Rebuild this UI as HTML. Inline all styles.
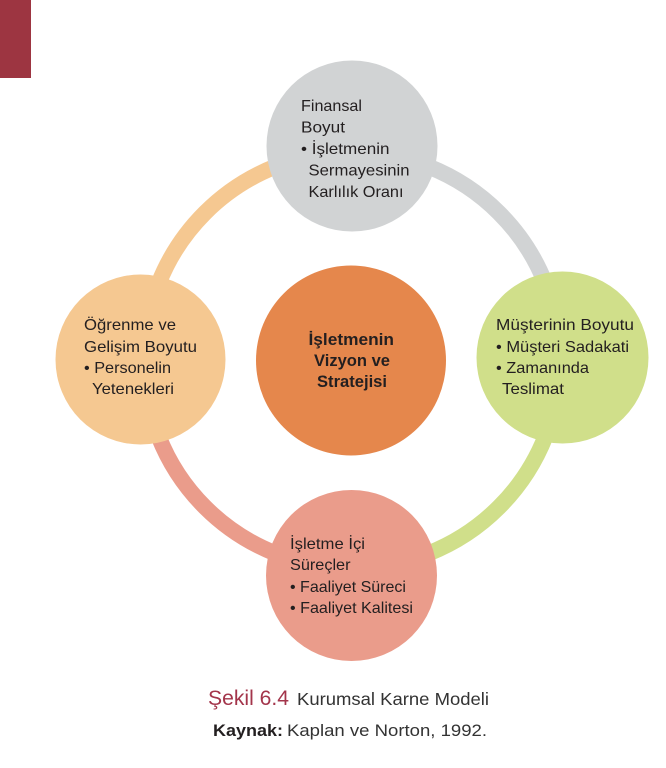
<!DOCTYPE html>
<html>
<head>
<meta charset="utf-8">
<style>
  html, body { margin: 0; padding: 0; background: #ffffff; }
  body { width: 666px; height: 768px; overflow: hidden; }
  svg { display: block; }
  text { font-family: "Liberation Sans", "DejaVu Sans", sans-serif; fill: #231f20; }
</style>
</head>
<body>
<svg width="666" height="768" viewBox="0 0 666 768" xmlns="http://www.w3.org/2000/svg">
  <rect x="0" y="0" width="31" height="78" fill="#9d3541"/>

  <!-- ring arcs -->
  <g fill="none" stroke-width="16">
    <path d="M144,360 A208,208 0 0 1 352,152" stroke="#f5c891"/>
    <path d="M352,152 A208,208 0 0 1 560,360" stroke="#d1d3d4"/>
    <path d="M560,360 A208,208 0 0 1 352,568" stroke="#d0df8a"/>
    <path d="M352,568 A208,208 0 0 1 144,360" stroke="#ea9c8b"/>
  </g>

  <!-- circles -->
  <circle cx="352" cy="146" r="85.5" fill="#d1d3d4"/>
  <circle cx="140.5" cy="359.5" r="85" fill="#f5c891"/>
  <circle cx="351" cy="360.5" r="95" fill="#e5874c"/>
  <circle cx="562.5" cy="357.5" r="86" fill="#d0df8a"/>
  <circle cx="351.5" cy="575.5" r="85.5" fill="#ea9c8b"/>

  <!-- top -->
  <g font-size="16">
    <text x="301" y="111" textLength="61" lengthAdjust="spacingAndGlyphs">Finansal</text>
    <text x="301" y="132.7" textLength="44" lengthAdjust="spacingAndGlyphs">Boyut</text>
    <text x="301" y="154" textLength="88.5" lengthAdjust="spacingAndGlyphs">• İşletmenin</text>
    <text x="308.5" y="175.7" textLength="101" lengthAdjust="spacingAndGlyphs">Sermayesinin</text>
    <text x="308.5" y="197" textLength="95" lengthAdjust="spacingAndGlyphs">Karlılık Oranı</text>
  </g>

  <!-- left -->
  <g font-size="16">
    <text x="84" y="330" textLength="92" lengthAdjust="spacingAndGlyphs">Öğrenme ve</text>
    <text x="84" y="352" textLength="113" lengthAdjust="spacingAndGlyphs">Gelişim Boyutu</text>
    <text x="84" y="373" textLength="87" lengthAdjust="spacingAndGlyphs">• Personelin</text>
    <text x="92" y="394" textLength="82" lengthAdjust="spacingAndGlyphs">Yetenekleri</text>
  </g>

  <!-- center -->
  <g font-size="16.5" font-weight="bold">
    <text x="308.5" y="345" textLength="85.5" lengthAdjust="spacingAndGlyphs">İşletmenin</text>
    <text x="314" y="366" textLength="76" lengthAdjust="spacingAndGlyphs">Vizyon ve</text>
    <text x="317" y="387" textLength="70" lengthAdjust="spacingAndGlyphs">Stratejisi</text>
  </g>

  <!-- right -->
  <g font-size="16">
    <text x="496" y="330" textLength="138" lengthAdjust="spacingAndGlyphs">Müşterinin Boyutu</text>
    <text x="496" y="352" textLength="133" lengthAdjust="spacingAndGlyphs">• Müşteri Sadakati</text>
    <text x="496" y="373" textLength="93" lengthAdjust="spacingAndGlyphs">• Zamanında</text>
    <text x="502" y="394" textLength="62" lengthAdjust="spacingAndGlyphs">Teslimat</text>
  </g>

  <!-- bottom -->
  <g font-size="16">
    <text x="290" y="549" textLength="75" lengthAdjust="spacingAndGlyphs">İşletme İçi</text>
    <text x="290" y="570" textLength="60.5" lengthAdjust="spacingAndGlyphs">Süreçler</text>
    <text x="290" y="592" textLength="116" lengthAdjust="spacingAndGlyphs">• Faaliyet Süreci</text>
    <text x="290" y="613" textLength="123" lengthAdjust="spacingAndGlyphs">• Faaliyet Kalitesi</text>
  </g>

  <!-- caption -->
  <text x="208" y="705" font-size="21" style="fill:#a3354b" textLength="81" lengthAdjust="spacingAndGlyphs">Şekil 6.4</text>
  <text x="297" y="705" font-size="17.5" style="fill:#333333" textLength="192" lengthAdjust="spacingAndGlyphs">Kurumsal Karne Modeli</text>
  <text x="213" y="736" font-size="17" font-weight="bold" textLength="70" lengthAdjust="spacingAndGlyphs">Kaynak:</text>
  <text x="287" y="736" font-size="17" style="fill:#333333" textLength="200" lengthAdjust="spacingAndGlyphs">Kaplan ve Norton, 1992.</text>
</svg>
</body>
</html>
